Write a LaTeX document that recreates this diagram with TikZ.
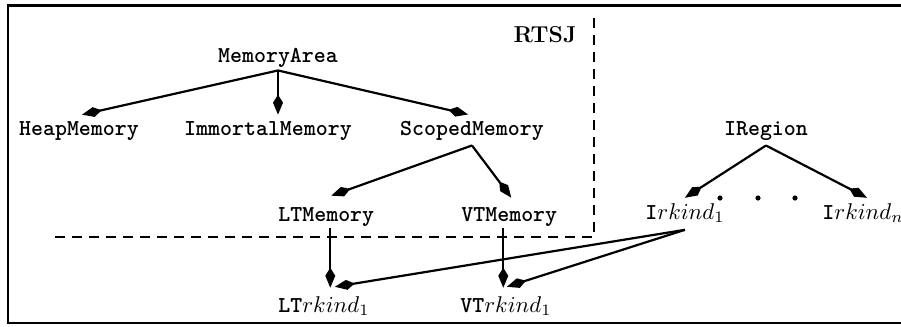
\RequirePackage{fix-cm}
\documentclass[tikz,border=0pt]{standalone}
\usetikzlibrary{arrows.meta,calc}
\begin{document}
\begin{tikzpicture}[x=0.5pt,y=-0.5pt,
  cls/.style={font=\fontsize{11.4}{14}\selectfont\ttfamily\bfseries, inner sep=0pt, anchor=base},
  arr/.style={line width=1.1pt, -{Kite[length=10pt,width=5pt,inset=4pt]}},
  sepline/.style={line width=1pt, dash pattern=on 5pt off 3.5pt},
  framed/.style={line width=1.4pt},
  dotmark/.style={circle, fill, inner sep=0pt, minimum size=2.6pt}]
\useasboundingbox (0,0) rectangle (901,327);

% outer frame (open on the right)
\draw[framed] (901,5.5) -- (8,5.5) -- (8,323) -- (901,323);

% RTSJ region boundary
\draw[sepline] (594,18) -- (594,237) -- (52,237);
\node[font=\fontsize{11.5}{13}\selectfont\bfseries, inner sep=0pt, anchor=base] (rtsj) at (545,42) {RTSJ};

% RTSJ memory classes
\node[cls] (ma) at (278,62) {MemoryArea};
\node[cls] (hm) at (79,135) {HeapMemory};
\node[cls] (im) at (268,135) {ImmortalMemory};
\node[cls] (sm) at (472,135) {ScopedMemory};
\node[cls, anchor=base west] (lt) at (278,221) {LTMemory};
\node[cls, anchor=base west] (vt) at (461,221) {VTMemory};
\node[cls, anchor=base west] (ltk) at (278,312) {LT$rkind_1$};
\node[cls, anchor=base west] (vtk) at (460,312) {VT$rkind_1$};

% region interfaces
\node[cls] (ir) at (766,135) {IRegion};
\node[cls, anchor=base west] (ik1) at (645,219) {I$rkind_1$};
\node[cls, anchor=base west] (ikn) at (822,219) {I$rkind_n$};
\node[dotmark] (d1) at (720,198) {};
\node[dotmark] (d2) at (758,198) {};
\node[dotmark] (d3) at (795,198) {};

% MemoryArea hierarchy
\coordinate (maJ) at ([yshift=-1.5pt]ma.south);
\draw[arr] (maJ) -- ([xshift=1.5pt,yshift=3pt]hm.north);
\draw[arr] (maJ) -- ($(maJ |- im.north)+(0,-6)$);
\draw[arr] (maJ) -- ([xshift=-2pt,yshift=3pt]sm.north);

\coordinate (smJ) at ([yshift=-2.5pt]sm.south);
\draw[arr] (smJ) -- ([xshift=2.5pt,yshift=5.5pt]lt.north);
\draw[arr] (smJ) -- ([xshift=1pt,yshift=4.5pt]vt.north);

\coordinate (ltS) at ([xshift=2pt,yshift=-1pt]lt.south);
\draw[arr] (ltS) -- ($(ltS |- ltk.north)+(0,-8)$);
\coordinate (vtS) at ([xshift=-3pt,yshift=-1pt]vt.south);
\draw[arr] (vtS) -- ($(vtS |- vtk.north)+(0,-8)$);

% IRegion hierarchy
\coordinate (irJ) at ([yshift=-2.5pt]ir.south);
\draw[arr] (irJ) -- ([yshift=2.5pt]ik1.north);
\draw[arr] (irJ) -- ([xshift=2pt,yshift=2.5pt]ikn.north);

\coordinate (ikS) at ([yshift=-3.5pt]ik1.south);
\draw[arr] (ikS) -- ([xshift=5.5pt,yshift=4.5pt]ltk.north);
\draw[arr] (ikS) -- ([xshift=0.5pt,yshift=4.5pt]vtk.north);
\end{tikzpicture}
\end{document}
